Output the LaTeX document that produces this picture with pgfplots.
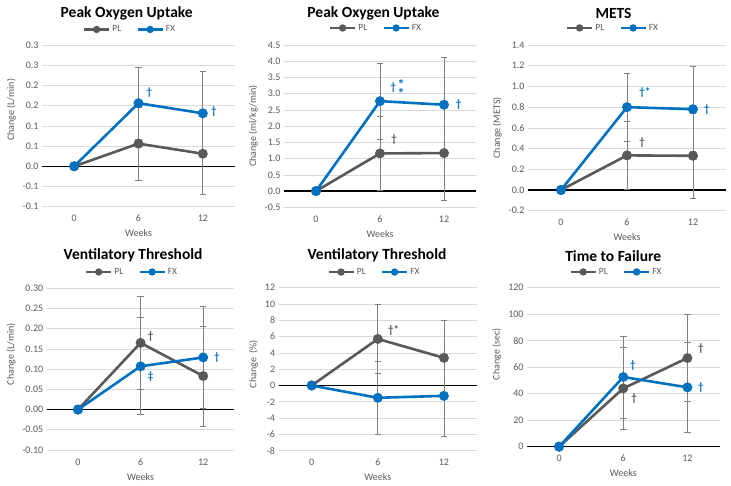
\documentclass[border=0pt]{standalone}
\usepackage{pgfplots}
\pgfplotsset{compat=1.18}
\usepackage{fontspec}
\setmainfont{Carlito}
\definecolor{plgray}{HTML}{595959}
\definecolor{fxblue}{HTML}{0070C0}
\definecolor{errgray}{HTML}{808080}
\definecolor{gridgray}{HTML}{D9D9D9}
\definecolor{txtgray}{HTML}{595959}
\newcommand{\annfont}{\fontsize{11}{12}\selectfont\bfseries}
\pgfplotsset{
 panel/.style={
  scale only axis,
  anchor=south west,
  xmin=-0.5,xmax=2.5,
  xtick={0,1,2}, xticklabels={0,6,12},
  axis line style={draw=none},
  major tick length=0pt,
  ymajorgrids, major grid style={gridgray, line width=0.6pt},
  extra y ticks={0}, extra y tick labels={},
  extra y tick style={major grid style={black,line width=1.3pt}},
  tick label style={font=\fontsize{10}{11}\selectfont, text=txtgray},
  xticklabel style={yshift=-5pt},
  /pgf/number format/assume math mode=true,
  label style={font=\fontsize{10}{11}\selectfont, text=txtgray},
  xlabel={Weeks},
  xlabel style={yshift=-1pt},
  title style={font=\fontsize{15.5}{17}\selectfont\bfseries, anchor=center},
  legend columns=2,
  legend style={draw=none, fill=none, anchor=center, font=\fontsize{9.5}{10}\selectfont, text=txtgray, inner sep=0pt,
    /tikz/every even column/.append style={column sep=13pt}},
  legend image code/.code={\draw[mark repeat=2, mark phase=2, ##1, mark size=2.3pt] plot coordinates {(0pt,0pt) (12.5pt,0pt) (25pt,0pt)};},
  clip=false,
 },
 pl/.style={plgray, line width=2.6pt, mark=*, mark size=3.6pt, mark options={solid}},
 fx/.style={fxblue, line width=2.6pt, mark=*, mark size=3.6pt, mark options={solid}},
 err/.style={draw=none, forget plot, mark=none,
   error bars/.cd, y dir=both, y explicit,
   error bar style={draw=errgray, line width=0.7pt},
   error mark=-,
   error mark options={rotate=90, draw=errgray, mark size=3.3pt, line width=0.7pt}},
}
\begin{document}
\begin{tikzpicture}
\path[use as bounding box] (0pt,0pt) rectangle (731pt,486pt);

% Panel 1: Peak Oxygen Uptake (L/min)
\begin{axis}[panel, at={(42pt,279.3pt)}, width=193pt, height=161.7pt,
  ymin=-0.10, ymax=0.30, ytick={-0.10,-0.05,0,0.05,0.10,0.15,0.20,0.25,0.30},
  yticklabels={-0.1,-0.1,0.0,0.1,0.1,0.2,0.2,0.3,0.3},
  ylabel={Change (L/min)}, ylabel style={xshift=16pt},
  title={Peak Oxygen Uptake}, title style={at={(0.439,1.16)}},
  legend style={at={(0.456,1.096)}}]
\addplot[err] coordinates {(1,0.156) +- (0,0.089) (2,0.131) +- (0,0.103)};
\addplot[err] coordinates {(1,0.056) +- (0,0.090) (2,0.031) +- (0,0.101)};
\addplot[pl] coordinates {(0,0) (1,0.056) (2,0.031)};
\addplot[fx] coordinates {(0,0) (1,0.156) (2,0.131)};
\legend{PL,FX}
\node[text=fxblue,font=\annfont] at (axis cs:1.17,0.182) {†};
\node[text=fxblue,font=\annfont] at (axis cs:2.17,0.136) {†};
\end{axis}

% Panel 2: Peak Oxygen Uptake (ml/kg/min)
\begin{axis}[panel, at={(284pt,278.7pt)}, width=192pt, height=162.3pt,
  ymin=-0.5, ymax=4.5, ytick={-0.5,0,...,4.5},
  yticklabel style={/pgf/number format/.cd, fixed, fixed zerofill, precision=1},
  ylabel={Change (ml/kg/min)},
  title={Peak Oxygen Uptake}, title style={at={(0.466,1.159)}},
  legend style={at={(0.479,1.105)}}]
\addplot[err] coordinates {(1,2.77) +- (0,1.17) (2,2.66) +- (0,1.46)};
\addplot[err] coordinates {(1,1.16) +- (0,1.14) (2,1.17) +- (0,1.46)};
\addplot[pl] coordinates {(0,0) (1,1.16) (2,1.17)};
\addplot[fx] coordinates {(0,0) (1,2.77) (2,2.66)};
\legend{PL,FX}
\node[text=fxblue,font=\annfont,anchor=base west,inner sep=0pt] at (axis cs:1.164,3.10)
  {†\hspace{1.5pt}\raisebox{-4.5pt}{\fontsize{14}{14}\selectfont\begin{tabular}{@{}c@{}}*\\[-5pt]*\end{tabular}}};
\node[text=plgray,font=\annfont] at (axis cs:1.22,1.59) {†};
\node[text=fxblue,font=\annfont] at (axis cs:2.23,2.66) {†};
\end{axis}

% Panel 3: METS
\begin{axis}[panel, at={(528pt,275.3pt)}, width=198pt, height=165.7pt,
  ymin=-0.2, ymax=1.4, ytick={-0.2,0,...,1.4},
  yticklabel style={/pgf/number format/.cd, fixed, fixed zerofill, precision=1},
  ylabel={Change (METS)},
  title={METS}, title style={at={(0.432,1.157)}},
  legend style={at={(0.429,1.103)}}]
\addplot[err] coordinates {(1,0.80) +- (0,0.33) (2,0.78) +- (0,0.41)};
\addplot[err] coordinates {(1,0.334) +- (0,0.325) (2,0.33) +- (0,0.41)};
\addplot[pl] coordinates {(0,0) (1,0.334) (2,0.33)};
\addplot[fx] coordinates {(0,0) (1,0.80) (2,0.78)};
\legend{PL,FX}
\node[text=fxblue,font=\annfont] at (axis cs:1.27,0.94) {†*};
\node[text=fxblue,font=\annfont] at (axis cs:2.21,0.78) {†};
\node[text=plgray,font=\annfont] at (axis cs:1.23,0.46) {†};
\end{axis}

% Panel 4: Ventilatory Threshold (L/min)
\begin{axis}[panel, at={(46.7pt,36pt)}, width=187.8pt, height=161.7pt,
  ymin=-0.10, ymax=0.30, ytick={-0.10,-0.05,0,0.05,0.10,0.15,0.20,0.25,0.30},
  yticklabel style={/pgf/number format/.cd, fixed, fixed zerofill, precision=2},
  ylabel={Change (L/min)}, ylabel style={xshift=15pt},
  title={Ventilatory Threshold}, title style={at={(0.46,1.17)}},
  legend style={at={(0.454,1.101)}}]
\addplot[err] coordinates {(1,0.107) +- (0,0.12) (2,0.129) +- (0,0.127)};
\addplot[err] coordinates {(1,0.165) +- (0,0.116) (2,0.083) +- (0,0.124)};
\addplot[pl] coordinates {(0,0) (1,0.165) (2,0.083)};
\addplot[fx] coordinates {(0,0) (1,0.107) (2,0.129)};
\legend{PL,FX}
\node[text=plgray,font=\annfont] at (axis cs:1.16,0.18) {†};
\node[text=fxblue,font=\annfont] at (axis cs:1.16,0.081) {‡};
\node[text=fxblue,font=\annfont] at (axis cs:2.22,0.129) {†};
\end{axis}

% Panel 5: Ventilatory Threshold (%)
\begin{axis}[panel, at={(278.6pt,35.3pt)}, width=198.4pt, height=163pt,
  ymin=-8, ymax=12, ytick={-8,-6,...,12},
  ylabel={Change\ \ (\%)}, ylabel style={xshift=5pt},
  title={Ventilatory Threshold}, title style={at={(0.496,1.165)}},
  legend style={at={(0.483,1.096)}}]
\addplot[err] coordinates {(1,-1.51) +- (0,4.45) (2,-1.27) +- (0,4.93)};
\addplot[err] coordinates {(1,5.71) +- (0,4.25) (2,3.39) +- (0,4.65)};
\addplot[pl] coordinates {(0,0) (1,5.71) (2,3.39)};
\addplot[fx] coordinates {(0,0) (1,-1.51) (2,-1.27)};
\legend{PL,FX}
\node[text=plgray,font=\annfont] at (axis cs:1.24,6.7) {†*};
\end{axis}

% Panel 6: Time to Failure
\begin{axis}[panel, at={(527pt,39.3pt)}, width=192.5pt, height=159pt,
  ymin=0, ymax=120, ytick={0,20,...,120},
  ylabel={Change (sec)}, ylabel style={xshift=13pt},
  title={Time to Failure}, title style={at={(0.448,1.162)}},
  legend style={at={(0.465,1.099)}}]
\addplot[err] coordinates {(1,52.6) +- (0,30.9) (2,44.8) +- (0,33.8)};
\addplot[err] coordinates {(1,44.0) +- (0,30.9) (2,66.9) +- (0,32.7)};
\addplot[pl] coordinates {(0,0) (1,44.0) (2,66.9)};
\addplot[fx] coordinates {(0,0) (1,52.6) (2,44.8)};
\legend{PL,FX}
\node[text=fxblue,font=\annfont] at (axis cs:1.15,60.9) {†};
\node[text=plgray,font=\annfont] at (axis cs:1.17,36.5) {†};
\node[text=plgray,font=\annfont] at (axis cs:2.21,74.2) {†};
\node[text=fxblue,font=\annfont] at (axis cs:2.21,44.8) {†};
\end{axis}
\end{tikzpicture}
\end{document}
